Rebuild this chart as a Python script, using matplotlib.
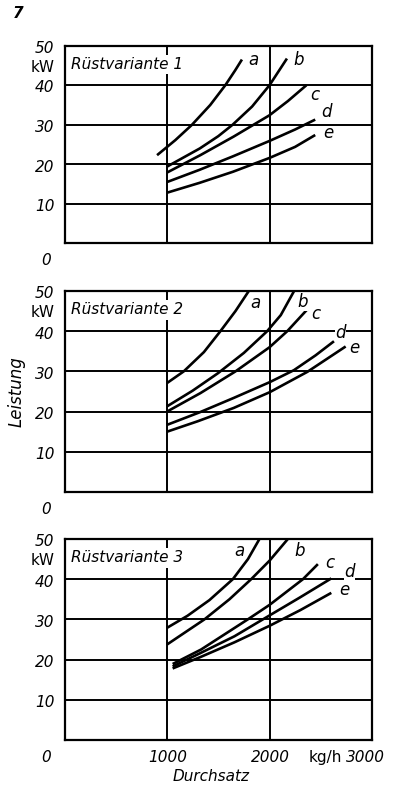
import matplotlib
matplotlib.use("Agg")
import matplotlib.pyplot as plt

plt.rcParams['font.family'] = ['DejaVu Sans']
plt.rcParams['font.style'] = 'oblique'

# Durchsatz (kg/h) / Leistung (kW)
panel_titles = ["Rüstvariante 1", "Rüstvariante 2", "Rüstvariante 3"]
curve_names = ["a", "b", "c", "d", "e"]

v1_x = {
    "a": [903, 1081, 1244, 1422, 1569, 1666, 1731],
    "b": [1000, 1320, 1500, 1640, 1830, 2000, 2170],
    "c": [1000, 1325, 1650, 2000, 2180, 2360],
    "d": [1000, 1318, 1643, 2000, 2250, 2446],
    "e": [1000, 1318, 1643, 2000, 2250, 2446],
}
v1_y = {
    "a": [22.3, 26.1, 30.0, 35.0, 40.0, 43.8, 46.5],
    "b": [19.4, 24.0, 27.1, 30.0, 34.6, 40.0, 46.75],
    "c": [17.9, 22.3, 27.0, 32.4, 36.0, 40.0],
    "d": [15.5, 18.6, 22.0, 25.9, 28.8, 31.3],
    "e": [12.8, 15.3, 18.1, 21.6, 24.4, 27.4],
}
v2_x = {
    "a": [1000, 1163, 1360, 1521, 1668, 1798],
    "b": [1000, 1250, 1500, 1750, 1977, 2110, 2240],
    "c": [1000, 1326, 1668, 2000, 2173, 2368],
    "d": [1000, 1326, 1651, 2000, 2238, 2450, 2629],
    "e": [1000, 1300, 1650, 2000, 2370, 2743],
}
v2_y = {
    "a": [27.1, 30.0, 34.8, 40.0, 45.0, 50.0],
    "b": [21.3, 25.2, 29.6, 34.6, 40.0, 44.0, 50.0],
    "c": [20.0, 24.6, 30.0, 36.0, 40.0, 45.4],
    "d": [16.7, 19.9, 23.4, 27.3, 30.3, 34.0, 37.5],
    "e": [15.0, 17.6, 20.9, 24.8, 29.9, 36.2],
}
v3_x = {
    "a": [1000, 1200, 1414, 1642, 1790, 1902],
    "b": [1000, 1365, 1609, 1821, 2000, 2179],
    "c": [1055, 1332, 1788, 2000, 2326, 2472],
    "d": [1055, 1332, 1658, 1935, 2293, 2603],
    "e": [1055, 1332, 1658, 2000, 2300, 2603],
}
v3_y = {
    "a": [27.9, 30.9, 34.8, 40.0, 45.0, 50.0],
    "b": [23.75, 30.0, 35.0, 40.0, 44.6, 50.0],
    "c": [18.9, 22.5, 30.0, 33.6, 40.0, 43.75],
    "d": [18.3, 21.7, 25.8, 30.0, 35.4, 40.2],
    "e": [17.8, 20.7, 24.3, 28.4, 32.3, 36.6],
}

# where the letters a..e sit in each panel
lbl1 = {"a": (1840, 46.3), "b": (2280, 46.3), "c": (2440, 37.6), "d": (2560, 33.1), "e": (2570, 27.9)}
lbl2 = {"a": (1865, 47.1), "b": (2320, 47.3), "c": (2450, 44.4), "d": (2695, 39.6), "e": (2830, 35.7)}
lbl3 = {"a": (1710, 47.1), "b": (2295, 47.1), "c": (2590, 44.1), "d": (2780, 41.7), "e": (2735, 37.2)}

x_ticks = [1000, 2000]
x_ticklabels = ["1000", "2000"]
y_ticks = [10, 20, 30, 40, 50]
y_ticklabels = ["10", "20", "30", "40", "50"]

panels = [(v1_x, v1_y, lbl1), (v2_x, v2_y, lbl2), (v3_x, v3_y, lbl3)]

W, H = 393, 785
fig = plt.figure(figsize=(W / 100, H / 100), dpi=100)
boxes = [(45.7, 243.3), (291, 492), (539, 740)]  # top, bottom in pixels
left_px, right_px = 64.5, 372

fs = 11
for i, ((px, py, lbl), (top, bot)) in enumerate(zip(panels, boxes)):
    ax = fig.add_axes([left_px / W, 1 - bot / H, (right_px - left_px) / W, (bot - top) / H])
    ax.set_xlim(0, 3000)
    ax.set_ylim(0, 50)
    for xv in x_ticks:
        ax.axvline(xv, color='black', lw=1.4, zorder=1)
    for yv in y_ticks[:-1]:
        ax.axhline(yv, color='black', lw=1.4, zorder=1)
    for s in ax.spines.values():
        s.set_linewidth(1.6)
    ax.set_xticks([])
    ax.set_yticks([])

    for name in curve_names:
        ax.plot(px[name], py[name], color='black', lw=1.9, solid_capstyle='butt',
                solid_joinstyle='round', zorder=3)
        lx, ly = lbl[name]
        # in panels 2 and 3 the letters break the grid line behind them
        box = dict(facecolor='white', edgecolor='none', pad=0.3) if i > 0 else None
        ax.text(lx, ly, name, fontsize=fs + 1, ha='center', va='center', zorder=4, bbox=box)

    ax.text(65, 45.3, panel_titles[i], fontsize=fs, ha='left', va='center', zorder=4,
            bbox=dict(facecolor='white', edgecolor='none', pad=1.5))

    # y labels drawn as text, slightly left of the frame
    tr = ax.get_yaxis_transform()
    for yv, lab in zip(y_ticks, y_ticklabels):
        ax.text(-0.032, yv - 0.7, lab, transform=tr, fontsize=fs, ha='right', va='center',
                clip_on=False)
    ax.text(-0.032, 44.6, "kW", transform=tr, fontsize=fs, ha='right', va='center',
            style='normal', clip_on=False)
    ax.text(-0.045, -4.3, "0", transform=tr, fontsize=fs, ha='right', va='center', clip_on=False)

    if i == 1:
        ax.text(-0.155, 0.5, "Leistung", transform=ax.transAxes, rotation=90, fontsize=fs + 1,
                ha='center', va='center')
    if i == 2:
        for xv, lab in zip(x_ticks, x_ticklabels):
            ax.text(xv + 10, -4.3, lab, fontsize=fs, ha='center', va='center', clip_on=False)
        ax.text(2540, -4.3, "kg/h", fontsize=fs, ha='center', va='center', style='normal',
                clip_on=False)
        ax.text(2940, -4.3, "3000", fontsize=fs, ha='center', va='center', clip_on=False)
        ax.text(1430, -9.2, "Durchsatz", fontsize=fs, ha='center', va='center', clip_on=False)

fig.text(18 / W, 1 - 13 / H, "7", fontsize=fs, fontweight='bold', ha='center', va='center')

fig.savefig("out.png", dpi=100)
